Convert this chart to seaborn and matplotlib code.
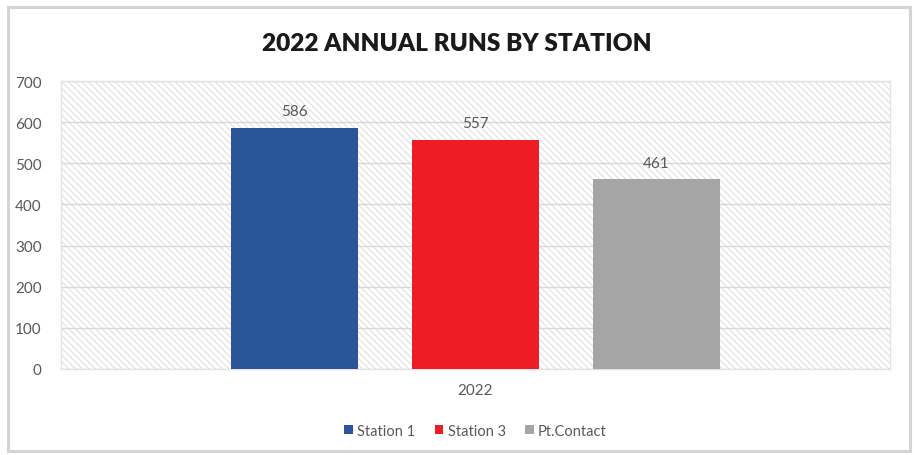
import matplotlib.pyplot as plt
import matplotlib.patches as mpatches
import seaborn as sns
import pandas as pd

sns.set_theme(style="white")
plt.rcParams['font.family'] = ['Lato', 'DejaVu Sans']
plt.rcParams['hatch.color'] = '#e0e0e0'
plt.rcParams['hatch.linewidth'] = 0.8

years = ['2022']
stations = ['Station 1', 'Station 3', 'Pt.Contact']
runs = [586, 557, 461]
colors = ['#2a5699', '#ee1c25', '#a5a5a5']

data = pd.DataFrame({'year': years * 3, 'station': stations, 'runs': runs})

fig = plt.figure(figsize=(9.14, 4.56), dpi=100)
# outer chart frame
fig.patches.append(mpatches.Rectangle((8 / 914, 4 / 456), 902 / 914, 444 / 456,
                                      transform=fig.transFigure, fill=False,
                                      edgecolor='#d4d4d4', linewidth=2.2))
ax = fig.add_axes([61 / 914, 1 - 370 / 456, 829 / 914, 288 / 456])

# hatched plot area
ax.add_patch(mpatches.Rectangle((0, 0), 1, 1, transform=ax.transAxes, facecolor='white',
                                hatch='\\\\\\\\\\', edgecolor='#e0e0e0', linewidth=0, zorder=0))

sns.barplot(data=data, x='year', y='runs', hue='station', palette=colors,
            width=0.655, gap=0.295, saturation=1, legend=True, ax=ax, zorder=3,
            edgecolor='none')

for c in ax.containers:
    ax.bar_label(c, padding=7, fontsize=11, color='#595959')

ax.set_ylim(0, 700)
ax.set_xlim(-0.5, 0.5)
ax.set_yticks(range(0, 701, 100))
ax.yaxis.grid(True, color='#d9d9d9', linewidth=1, zorder=1)
ax.set_axisbelow(True)
ax.tick_params(axis='both', labelsize=11, labelcolor='#595959', length=0, pad=14)
ax.tick_params(axis='x', pad=10)
ax.set_xlabel('')
ax.set_ylabel('')
for s in ax.spines.values():
    s.set_color('#e3e3e3')
    s.set_linewidth(1)

leg = ax.legend(loc='upper center', bbox_to_anchor=(0.5, -0.145), ncol=3, frameon=False,
                fontsize=10.5, handlelength=0.6, handleheight=0.6, handletextpad=0.3,
                columnspacing=1.3)
for t in leg.get_texts():
    t.set_color('#595959')

fig.text(0.5, 1 - 44 / 456, '2022 ANNUAL RUNS BY STATION', ha='center', va='center',
         fontsize=17.6, fontweight='heavy', color='#1a1a1a')

fig.savefig('out.png', dpi=100)
